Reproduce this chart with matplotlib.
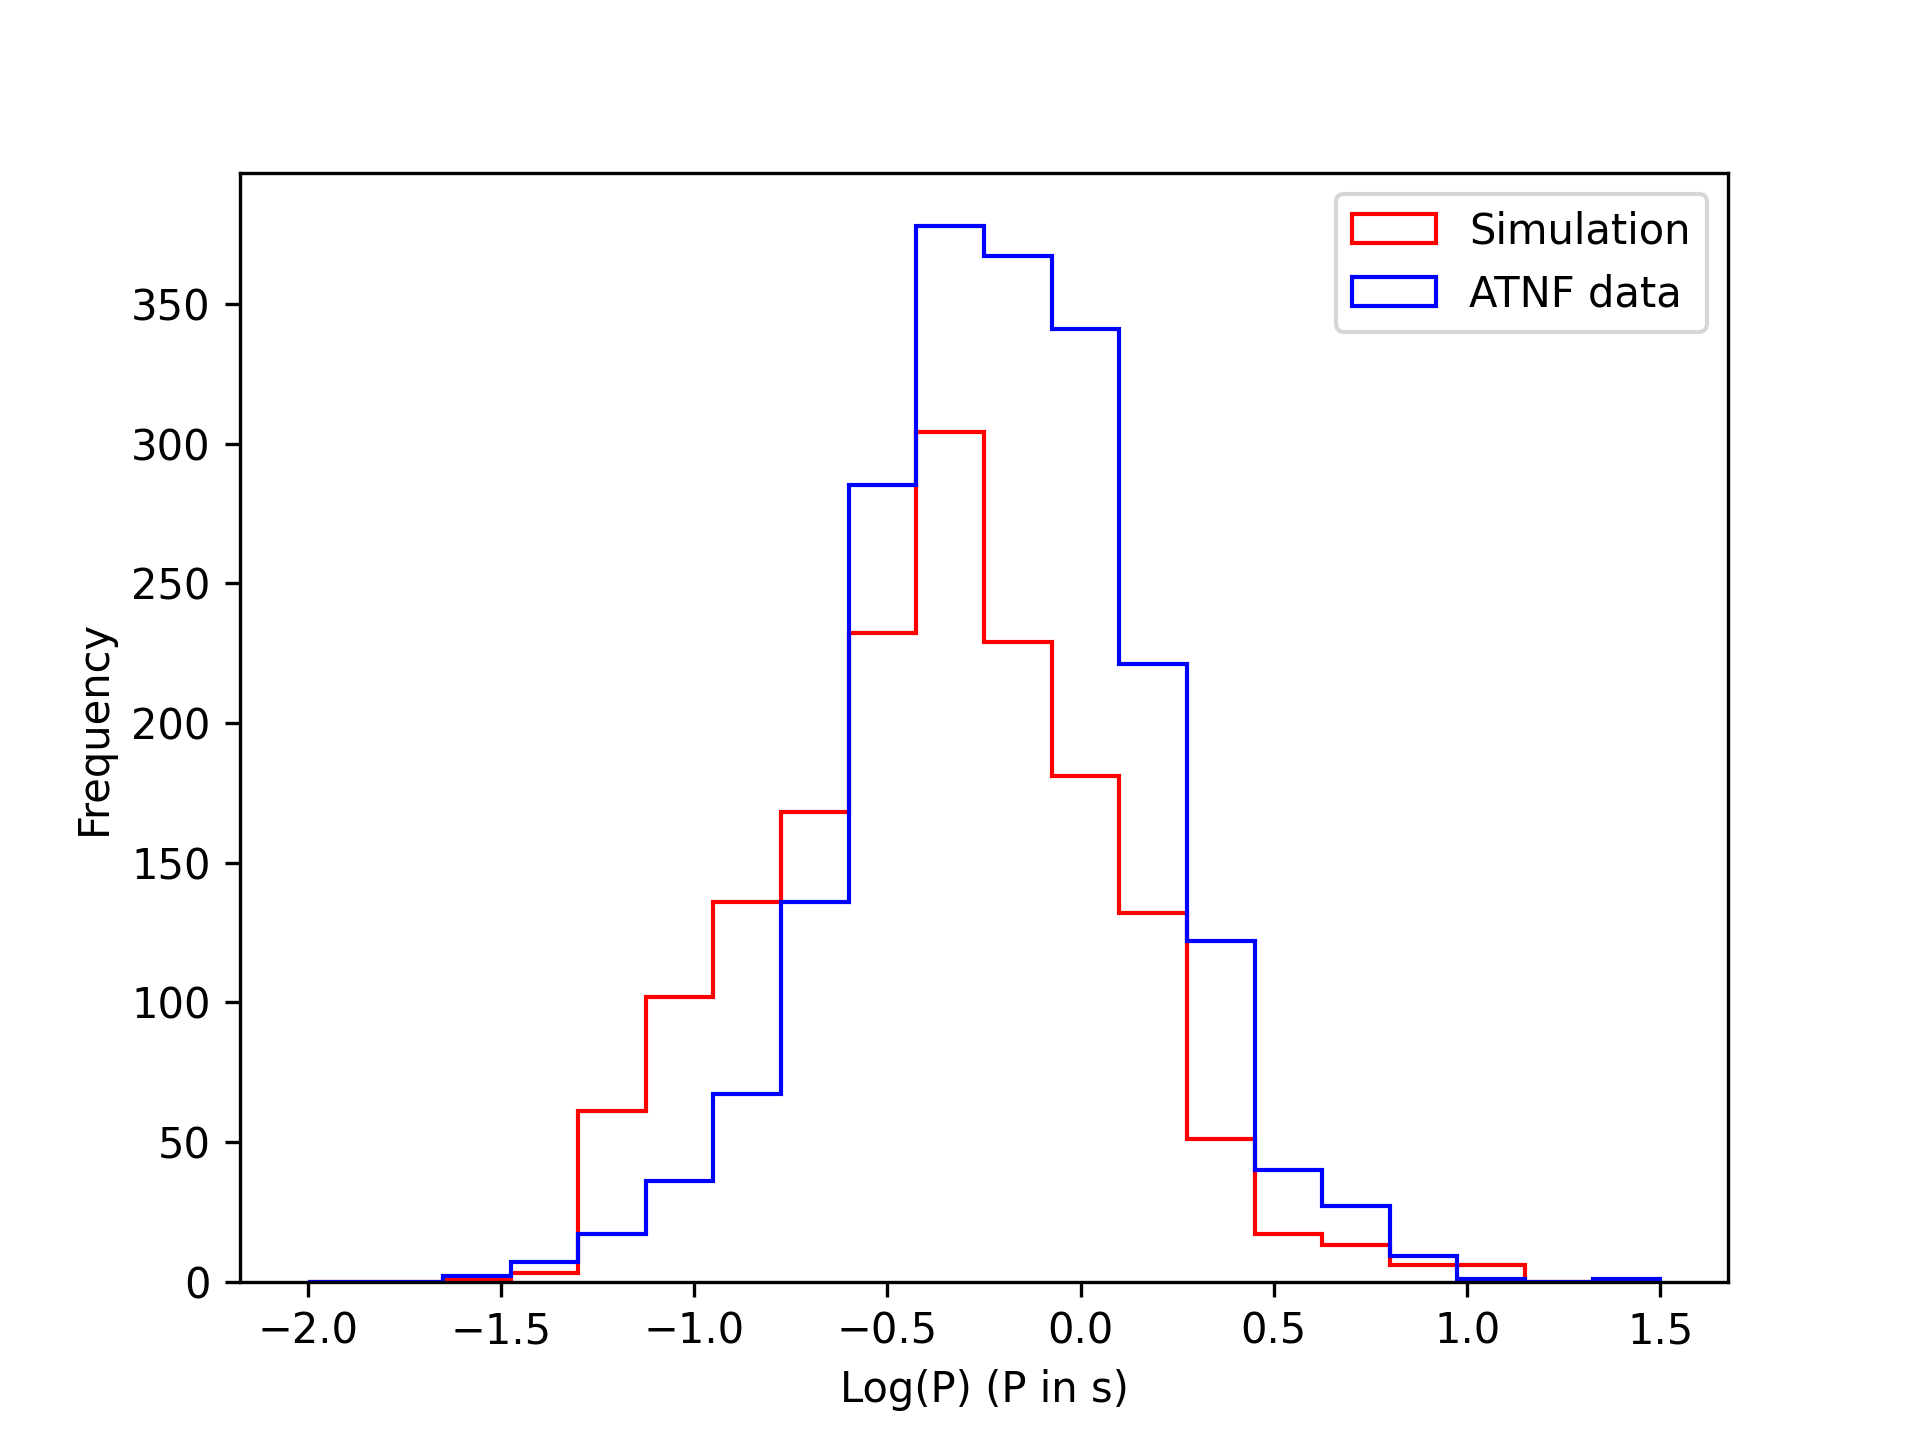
import numpy as np
import matplotlib
matplotlib.use("Agg")
import matplotlib.pyplot as plt

# histogram bins: 20 bins from -2.0 to 1.5
edges = np.linspace(-2.0, 1.5, 21)
sim_counts = [0, 0, 1, 3, 61, 102, 136, 168, 232, 304,
              229, 181, 132, 51, 17, 13, 6, 6, 0, 0]
atnf_counts = [0, 0, 2, 7, 17, 36, 67, 136, 285, 378,
               367, 341, 221, 122, 40, 27, 9, 1, 0, 1]

centers = (edges[:-1] + edges[1:]) / 2

fig, ax = plt.subplots(figsize=(6.4, 4.8), dpi=300)
ax.hist(centers, bins=edges, weights=sim_counts, histtype='step',
        color='red', label='Simulation')
ax.hist(centers, bins=edges, weights=atnf_counts, histtype='step',
        color='blue', label='ATNF data')

ax.set_xlabel('Log(P) (P in s)')
ax.set_ylabel('Frequency')
ax.legend(loc='upper right')

fig.savefig('out.png')
